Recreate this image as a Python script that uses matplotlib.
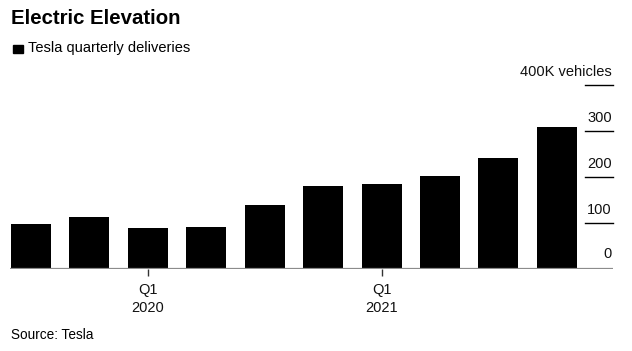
import matplotlib
matplotlib.use("Agg")
import matplotlib.pyplot as plt
import matplotlib.transforms as mtransforms
from matplotlib.patches import Rectangle

plt.rcParams['font.family'] = ['Liberation Sans', 'DejaVu Sans']

quarters = ["Q3 2019", "Q4 2019", "Q1 2020", "Q2 2020", "Q3 2020",
            "Q4 2020", "Q1 2021", "Q2 2021", "Q3 2021", "Q4 2021"]
deliveries = [97.0, 112.0, 88.4, 90.7, 139.3, 180.6, 184.8, 201.3, 241.3, 308.6]
y_ticks = [0, 100, 200, 300, 400]
y_tick_labels = ["0", "100", "200", "300", "400K vehicles"]
x_tick_idx = [2, 6]
x_tick_labels = ["Q1\n2020", "Q1\n2021"]

W, H = 632, 351
fig = plt.figure(figsize=(W / 100, H / 100), dpi=100)
left, right, bottom, top = 10, 613, 269, 85
ax = fig.add_axes([left / W, 1 - bottom / H, (right - left) / W, (bottom - top) / H])

x = list(range(len(deliveries)))
ax.bar(x, deliveries, width=0.685, color="black", zorder=2)
ax.set_xlim(-0.36, 9.96)
ax.set_ylim(0, 400)

for s in ax.spines.values():
    s.set_visible(False)
ax.axhline(0, color="#8c8c8c", lw=1.6, zorder=3)

ax.set_yticks([])
ax.set_xticks(x_tick_idx)
ax.set_xticklabels(x_tick_labels, fontsize=10.5, color="#111111", linespacing=1.35)
ax.tick_params(axis="x", length=5, width=1, color="#333333", pad=5)

trans = mtransforms.blended_transform_factory(ax.transAxes, ax.transData)
gx0 = (585 - left) / (right - left)
for v, lab in zip(y_ticks, y_tick_labels):
    if v > 0:
        ax.plot([gx0, 1.0], [v, v], transform=trans, color="black", lw=1.0,
                clip_on=False, zorder=3)
    ax.annotate(lab, xy=(1.0, v), xycoords=trans, xytext=(-1, 4 if v > 0 else 6),
                textcoords="offset points", ha="right", va="bottom",
                fontsize=10.5, color="#111111")

fig.text(11 / W, 1 - 18 / H, "Electric Elevation", fontsize=14.7,
         fontweight="bold", ha="left", va="center", color="black")
fig.patches.append(Rectangle((13 / W, 1 - 53 / H), 10 / W, 7.5 / H,
                             transform=fig.transFigure, color="black"))
fig.text(28 / W, 1 - 48 / H, "Tesla quarterly deliveries", fontsize=10.5,
         ha="left", va="center", color="black")
fig.text(11 / W, 1 - 335 / H, "Source: Tesla", fontsize=9.8,
         ha="left", va="center", color="black")

fig.savefig("out.png", dpi=100, facecolor="white")
